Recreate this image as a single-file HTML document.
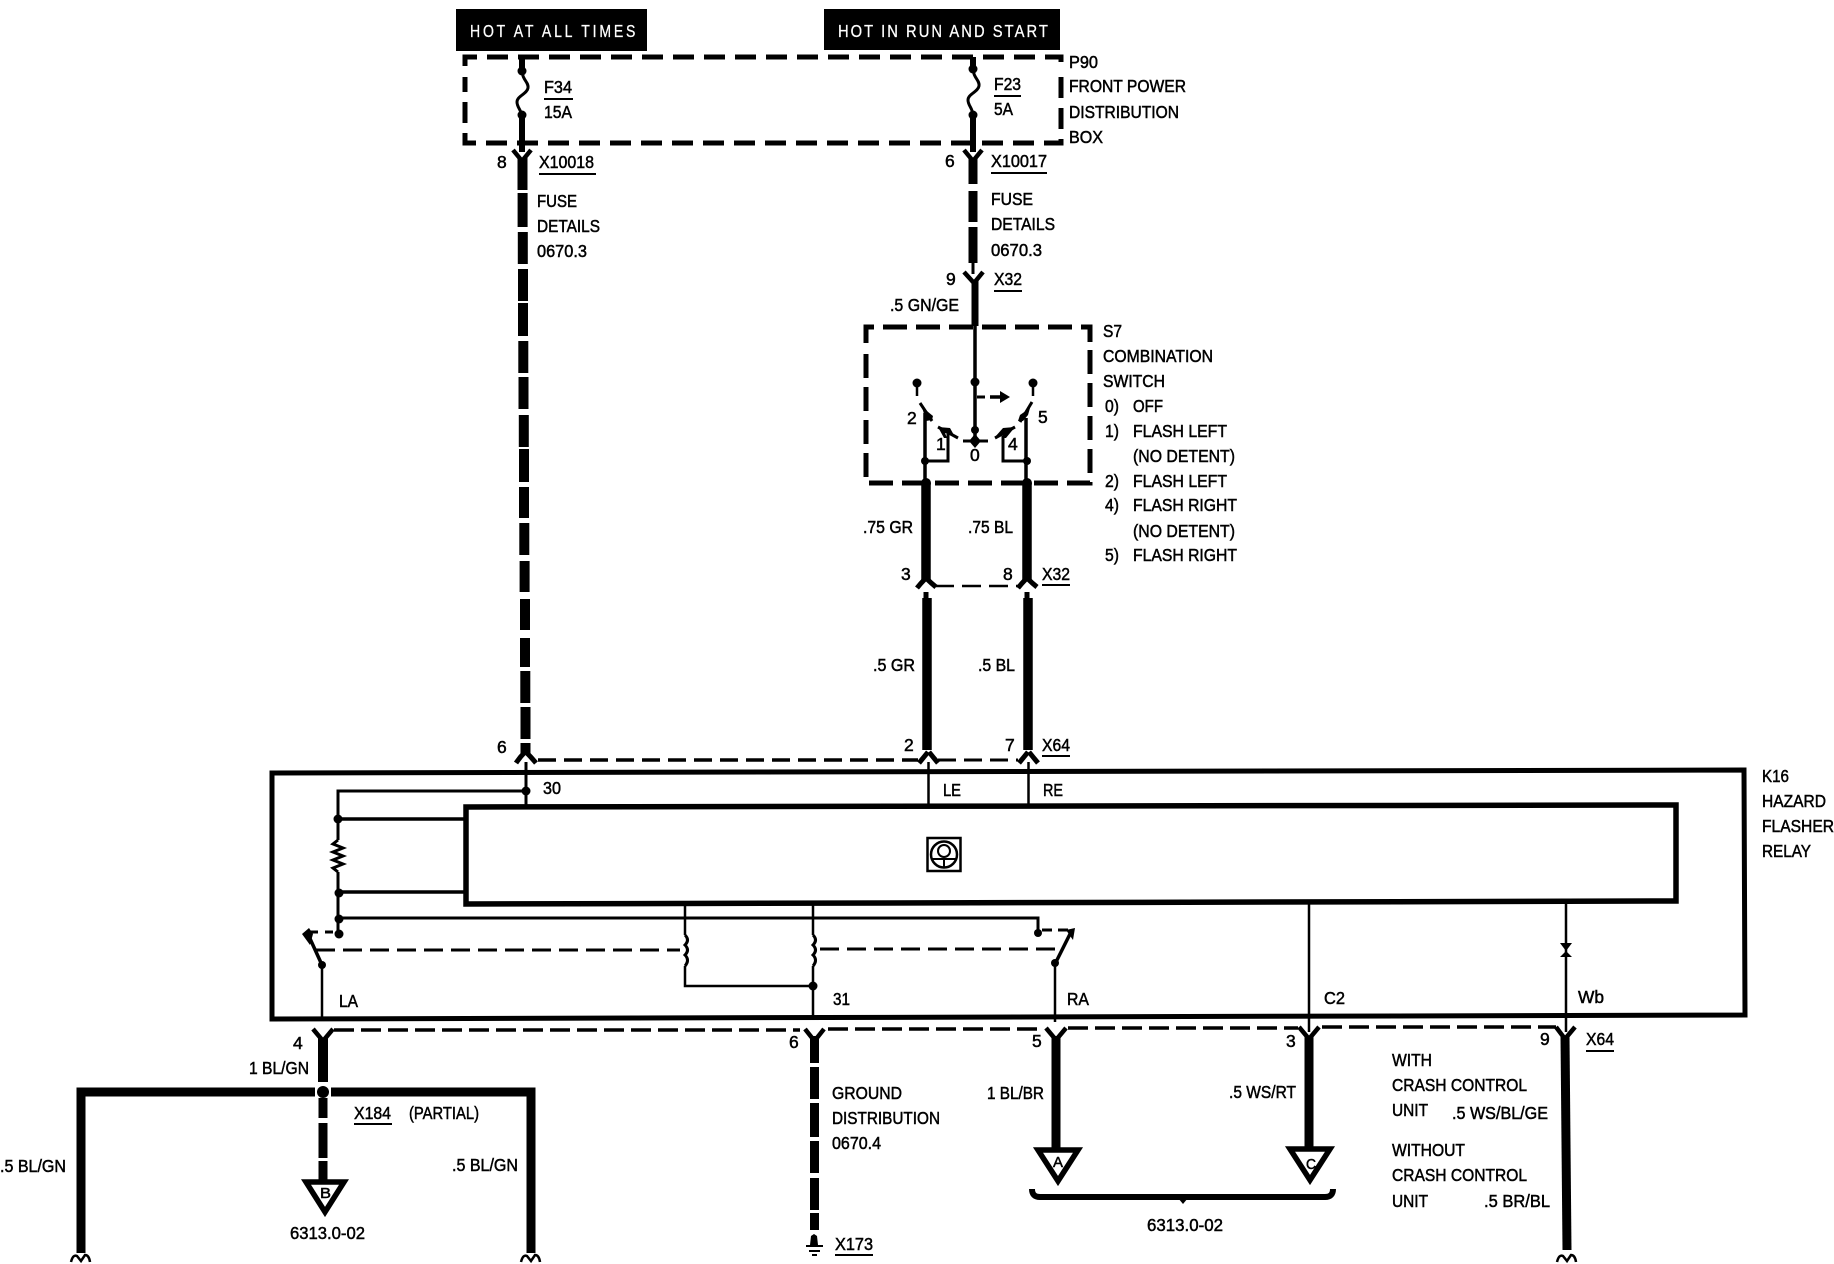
<!DOCTYPE html>
<html><head><meta charset="utf-8"><style>
html,body{margin:0;padding:0;background:#fff}
svg{display:block}
text{font-family:"Liberation Sans",sans-serif;font-size:17.5px;fill:#000;stroke:#000;stroke-width:.5}
.w text{fill:#fff;stroke:#fff;stroke-width:.3;font-size:18px}
.l{font-size:15px}
path,line,rect,polygon,polyline,circle{fill:none;stroke:#000}
.f{fill:#000;stroke:none}
</style></head><body>
<svg width="1834" height="1264" viewBox="0 0 1834 1264" xmlns="http://www.w3.org/2000/svg">
<rect width="1834" height="1264" style="fill:#fff;stroke:none"/>
<!-- labels -->
<rect class="f" x="456" y="9" width="191" height="42"/>
<rect class="f" x="824" y="9" width="236" height="41"/>
<g class="w">
<text transform="translate(470,37) scale(.78,1)" textLength="212" lengthAdjust="spacing">HOT AT ALL TIMES</text>
<text transform="translate(838,37) scale(.82,1)" textLength="256" lengthAdjust="spacing">HOT IN RUN AND START</text>
</g>
<!-- dashed boxes -->
<path d="M465 66V57H1061V68M1061 77V143H465V77" stroke-width="5" stroke-dasharray="21 10" />
<path d="M866 343V327H1090V343M1090 350V483H866V350" stroke-width="5" stroke-dasharray="24 9"/>
<!-- fuses -->
<path d="M522 57V70M522 118V152" stroke-width="6"/>
<path d="M522 70C522 80 529 82 528 88C527 94 517 96 517 102C517 108 522 110 522 118" stroke-width="3"/>
<circle class="f" cx="522" cy="71" r="4.5"/><circle class="f" cx="522" cy="115" r="4.5"/>
<path d="M973 57V68M973 116V152" stroke-width="6"/>
<path d="M973 68C973 78 980 80 979 86C978 92 968 94 968 100C968 106 973 108 973 116" stroke-width="3"/>
<circle class="f" cx="973" cy="69" r="4.5"/><circle class="f" cx="973" cy="115" r="4.5"/>
<!-- left dashed thick wire -->
<g stroke-width="10">
<path d="M522.5 158V190M522.6 193V227M522.8 232V264M523 269V301M523 303V336M523.3 341V373M523.5 377V409M523.8 415V447M524 449V482M524 487V518M524.3 523V555M524.6 561V592M525 599V630M525 638V667M525.3 671V703M525.5 707V739M525.5 743V755"/>
</g>
<!-- forks top -->
<path d="M513 150L522 161L531 150" stroke-width="4.5"/>
<path d="M964 150L973 161L982 150" stroke-width="4.5"/>
<!-- right fuse wire -->
<path d="M973 158V184M973 191V222M973 227V263" stroke-width="9"/>
<path d="M973 263V274" stroke-width="3"/>
<path d="M964 272L974 283L983 272" stroke-width="4.5"/>
<path d="M975 280V326" stroke-width="7"/>
<!-- S7 internals -->
<path d="M975 326V441" stroke-width="3.5"/>
<circle class="f" cx="975" cy="382" r="4.5"/><circle class="f" cx="975" cy="430" r="4"/>
<path d="M977 397H985" stroke-width="3"/>
<path d="M990 397H1002" stroke-width="3.5"/>
<polygon class="f" points="1000,391 1010,397 1000,403"/>
<circle class="f" cx="917" cy="383" r="4.5"/><path d="M917 385V396" stroke-width="2.5"/>
<circle class="f" cx="1033" cy="383" r="4.5"/><path d="M1033 385V396" stroke-width="2.5"/>
<!-- arm 2 -->
<path d="M920 403L932 421" stroke-width="3"/>
<polygon class="f" points="922,407 933,416 932,420 926,421"/>
<!-- arm 5 -->
<path d="M1032 402L1020 422" stroke-width="3"/>
<polygon class="f" points="1030,408 1028,415 1023,421 1018,421 1020,415"/>
<!-- arm 1 -->
<path d="M938 427L958 438" stroke-width="3"/>
<polygon class="f" points="938,427 950,428 955,437 945,433 947,438 944,438"/>
<!-- arm 4 -->
<path d="M1015 427L995 438" stroke-width="3"/>
<polygon class="f" points="1015,427 1003,428 995,437 1003,433 1002,438 1006,438"/>
<!-- node 0 -->
<path d="M963 441H988" stroke-width="3"/><polygon class="f" points="969,441 975,434 981,441 975,448"/>
<path d="M925 413V483" stroke-width="3.5"/>
<path d="M1026 418V483" stroke-width="3.5"/>
<path d="M926 461H948V434" stroke-width="3"/>
<path d="M1027 461H1003V436" stroke-width="3"/>
<circle class="f" cx="925" cy="461" r="4"/><circle class="f" cx="1027" cy="461" r="4"/>
<!-- .75 wires -->
<path d="M926 483V580" stroke-width="9.5"/><path d="M1027 483V580" stroke-width="9.5"/>
<circle class="f" cx="926" cy="483" r="5"/><circle class="f" cx="1027" cy="483" r="5"/>
<path d="M917 588Q921 583 925 579M936 587Q931 583 927 579" stroke-width="5"/>
<path d="M1018 588Q1022 583 1026 579M1037 587Q1032 583 1028 579" stroke-width="5"/>
<path d="M935 586H1018" stroke-width="2.5" stroke-dasharray="19 8"/>
<!-- .5 wires -->
<path d="M926 592V610" stroke-width="5"/><path d="M1027 592V610" stroke-width="5"/>
<path d="M927 598V750" stroke-width="9.5"/><path d="M1028 598V750" stroke-width="9.5"/>
<path d="M919 763Q924 757 928 752M938 763Q933 757 929 752" stroke-width="5"/>
<path d="M1019 763Q1024 757 1028 752M1038 763Q1033 757 1029 752" stroke-width="5"/>
<path d="M516 763Q520 757 525 752M536 763Q531 757 526 752" stroke-width="5"/>
<path d="M538 760H918" stroke-width="3.5" stroke-dasharray="18 8"/>
<path d="M938 760H1018" stroke-width="3" stroke-dasharray="18 8"/>
<!-- K16 boxes -->
<polygon points="272,773 1744,770 1745,1015 272,1019" stroke-width="5"/>
<polygon points="466,807 1676,805 1676,901 466,904" stroke-width="5.5"/>
<!-- pins into box -->
<path d="M526 762V806" stroke-width="3"/>
<path d="M928.5 762V806" stroke-width="2.5"/>
<path d="M1028.5 762V805" stroke-width="2.5"/>
<!-- icon -->
<rect x="927.5" y="838" width="33" height="33" stroke-width="2.5"/>
<circle cx="944" cy="854.5" r="13" stroke-width="2.5"/>
<circle cx="944" cy="851" r="6" stroke-width="2"/>
<path d="M932 859H956M944 859V867" stroke-width="2"/>
<!-- left circuit -->
<path d="M526 791H338V840M338 872V935" stroke-width="3"/>
<path d="M338 840L333 844L343 848L333 852L343 856L333 860L343 864L333 868L338 872" stroke-width="3"/>
<circle class="f" cx="526" cy="791" r="4.5"/>
<path d="M338 819H466M339 892H466" stroke-width="3.5"/>
<circle class="f" cx="338" cy="819" r="4.5"/><circle class="f" cx="339" cy="893" r="4.5"/><circle class="f" cx="339" cy="919" r="4.5"/><circle class="f" cx="339" cy="934" r="4.5"/>
<path d="M339 918H1038V933" stroke-width="3"/>
<circle class="f" cx="1038" cy="933" r="4"/>
<path d="M310 932H335" stroke-width="3" stroke-dasharray="8 7" />
<path d="M307 932L322 965" stroke-width="3.5"/>
<polygon class="f" points="302,934 309,928 313,934 310,945"/>
<circle class="f" cx="322" cy="965" r="4"/>
<path d="M322 965V1020" stroke-width="2.5"/>
<path d="M316 950H680" stroke-width="3" stroke-dasharray="19 8"/>
<path d="M685 904V935M685 966V986H813" stroke-width="2.5"/>
<path d="M685 935Q690 940 685 945Q690 950 685 955Q690 960 685 966" stroke-width="3"/>
<path d="M813 904V935M813 966V1020" stroke-width="2.5"/>
<path d="M813 935Q818 940 813 945Q818 950 813 955Q818 960 813 966" stroke-width="3"/>
<circle class="f" cx="813" cy="986" r="4.5"/>
<path d="M820 949H1061" stroke-width="3" stroke-dasharray="19 8"/>
<path d="M1072 930L1055 964" stroke-width="3.5"/>
<polygon class="f" points="1066,930 1075,928 1073,940"/>
<circle class="f" cx="1055" cy="963" r="4"/>
<path d="M1042 930H1068" stroke-width="3" stroke-dasharray="10 6"/>
<path d="M1055 964V1022" stroke-width="2.5"/>
<path d="M1309 902V1032" stroke-width="2.5"/>
<path d="M1566 901V1032" stroke-width="2.5"/>
<polygon class="f" points="1560,943 1572,943 1566,951 1572,957 1560,957 1566,951"/>
<!-- bottom connector row -->
<path d="M334 1030H800" stroke-width="3.5" stroke-dasharray="20 7"/>
<path d="M828 1029H1044" stroke-width="3.5" stroke-dasharray="20 7"/>
<path d="M1068 1028H1298" stroke-width="3.5" stroke-dasharray="20 7"/>
<path d="M1322 1027H1556" stroke-width="3.5" stroke-dasharray="20 7"/>
<path d="M313 1029L323 1041L333 1029" stroke-width="4.5"/>
<path d="M805 1029L814.5 1041L824 1029" stroke-width="4.5"/>
<path d="M1046 1028L1056 1040L1066 1028" stroke-width="4.5"/>
<path d="M1299 1027L1309 1039L1319 1027" stroke-width="4.5"/>
<path d="M1556 1027L1565 1039L1575 1027" stroke-width="4.5"/>
<!-- wire 4 and bus -->
<path d="M323 1038V1082" stroke-width="10"/>
<circle class="f" cx="323" cy="1092" r="6"/>
<path d="M81 1253V1092H315M331 1092H531V1253" stroke-width="9" />
<path d="M323 1098V1118M323 1123V1158M323 1161V1180" stroke-width="9"/>
<polygon points="306,1182 344,1182 325,1212" stroke-width="5.5"/>
<text class="l" x="320" y="1198" textLength="11" lengthAdjust="spacingAndGlyphs">B</text>
<text x="290" y="1239" textLength="75" lengthAdjust="spacingAndGlyphs">6313.0-02</text>
<path d="M71 1262Q73 1254 77 1256L81 1261L85 1255Q89 1255 90 1262" stroke-width="2.5"/>
<path d="M521 1262Q523 1254 527 1256L531 1261L535 1255Q539 1255 540 1262" stroke-width="2.5"/>
<!-- ground -->
<path d="M814.5 1036V1063M814.5 1067V1099M814.5 1103V1137M814.5 1141V1173M814.5 1178V1210M814.5 1213V1230" stroke-width="9"/>
<polygon class="f" points="810,1245 811,1236 814,1234 817,1236 818,1245"/>
<path d="M806 1246H823M809 1251H820M812 1255H817" stroke-width="2"/>
<!-- wire 5 / 3 / 9 -->
<path d="M1056 1036V1148" stroke-width="9"/>
<path d="M1309 1036V1147" stroke-width="9"/>
<path d="M1565 1036L1567 1250" stroke-width="9"/>
<path d="M1557 1262Q1559 1254 1563 1256L1567 1261L1571 1255Q1575 1255 1576 1262" stroke-width="2.5"/>
<polygon points="1038,1150 1078,1150 1058,1181" stroke-width="5.5"/>
<polygon points="1290,1149 1330,1149 1310,1180" stroke-width="5.5"/>
<text class="l" x="1053" y="1167" textLength="10" lengthAdjust="spacingAndGlyphs">A</text>
<text class="l" x="1306" y="1169" textLength="10" lengthAdjust="spacingAndGlyphs">C</text>
<path d="M1032 1189Q1032 1197 1040 1197H1325Q1333 1197 1333 1189" stroke-width="6"/>
<polygon class="f" points="1178,1198 1188,1198 1183,1204"/>
<text x="1147" y="1231" textLength="76" lengthAdjust="spacingAndGlyphs">6313.0-02</text>
<!-- underlines -->
<g stroke-width="2">
<path d="M544 99H573M994 96H1021M539 174H596M991 173H1047M994 291H1022M1042 585H1070M1042 756H1070M1586 1051H1614M354 1124H392M835 1255H873"/>
</g>
<!-- text -->
<g>
<text x="1069" y="68" textLength="29" lengthAdjust="spacingAndGlyphs">P90</text>
<text x="1069" y="92" textLength="117" lengthAdjust="spacingAndGlyphs">FRONT POWER</text>
<text x="1069" y="118" textLength="110" lengthAdjust="spacingAndGlyphs">DISTRIBUTION</text>
<text x="1069" y="143" textLength="34" lengthAdjust="spacingAndGlyphs">BOX</text>
<text x="544" y="93" textLength="28" lengthAdjust="spacingAndGlyphs">F34</text>
<text x="544" y="118" textLength="28" lengthAdjust="spacingAndGlyphs">15A</text>
<text x="994" y="90" textLength="27" lengthAdjust="spacingAndGlyphs">F23</text>
<text x="994" y="115" textLength="19" lengthAdjust="spacingAndGlyphs">5A</text>
<text x="497" y="168">8</text>
<text x="539" y="168" textLength="55" lengthAdjust="spacingAndGlyphs">X10018</text>
<text x="945" y="167">6</text>
<text x="991" y="167" textLength="56" lengthAdjust="spacingAndGlyphs">X10017</text>
<text x="537" y="207" textLength="40" lengthAdjust="spacingAndGlyphs">FUSE</text>
<text x="537" y="232" textLength="63" lengthAdjust="spacingAndGlyphs">DETAILS</text>
<text x="537" y="257" textLength="50" lengthAdjust="spacingAndGlyphs">0670.3</text>
<text x="991" y="205" textLength="42" lengthAdjust="spacingAndGlyphs">FUSE</text>
<text x="991" y="230" textLength="64" lengthAdjust="spacingAndGlyphs">DETAILS</text>
<text x="991" y="256" textLength="51" lengthAdjust="spacingAndGlyphs">0670.3</text>
<text x="946" y="285">9</text>
<text x="994" y="285" textLength="28" lengthAdjust="spacingAndGlyphs">X32</text>
<text x="890" y="311" textLength="69" lengthAdjust="spacingAndGlyphs">.5 GN/GE</text>
<text x="1103" y="337" textLength="19" lengthAdjust="spacingAndGlyphs">S7</text>
<text x="1103" y="362" textLength="110" lengthAdjust="spacingAndGlyphs">COMBINATION</text>
<text x="1103" y="387" textLength="62" lengthAdjust="spacingAndGlyphs">SWITCH</text>
<text x="1105" y="412" textLength="14" lengthAdjust="spacingAndGlyphs">0)</text><text x="1133" y="412" textLength="30" lengthAdjust="spacingAndGlyphs">OFF</text>
<text x="1105" y="437" textLength="14" lengthAdjust="spacingAndGlyphs">1)</text><text x="1133" y="437" textLength="94" lengthAdjust="spacingAndGlyphs">FLASH LEFT</text>
<text x="1133" y="462" textLength="102" lengthAdjust="spacingAndGlyphs">(NO DETENT)</text>
<text x="1105" y="487" textLength="14" lengthAdjust="spacingAndGlyphs">2)</text><text x="1133" y="487" textLength="94" lengthAdjust="spacingAndGlyphs">FLASH LEFT</text>
<text x="1105" y="511" textLength="14" lengthAdjust="spacingAndGlyphs">4)</text><text x="1133" y="511" textLength="104" lengthAdjust="spacingAndGlyphs">FLASH RIGHT</text>
<text x="1133" y="537" textLength="102" lengthAdjust="spacingAndGlyphs">(NO DETENT)</text>
<text x="1105" y="561" textLength="14" lengthAdjust="spacingAndGlyphs">5)</text><text x="1133" y="561" textLength="104" lengthAdjust="spacingAndGlyphs">FLASH RIGHT</text>
<text x="907" y="424">2</text><text x="936" y="450">1</text><text x="970" y="461">0</text><text x="1008" y="450">4</text><text x="1038" y="423">5</text>
<text x="863" y="533" textLength="50" lengthAdjust="spacingAndGlyphs">.75 GR</text>
<text x="968" y="533" textLength="45" lengthAdjust="spacingAndGlyphs">.75 BL</text>
<text x="901" y="580">3</text><text x="1003" y="580">8</text>
<text x="1042" y="580" textLength="28" lengthAdjust="spacingAndGlyphs">X32</text>
<text x="873" y="671" textLength="42" lengthAdjust="spacingAndGlyphs">.5 GR</text>
<text x="978" y="671" textLength="37" lengthAdjust="spacingAndGlyphs">.5 BL</text>
<text x="497" y="753">6</text>
<text x="904" y="751">2</text><text x="1005" y="751">7</text>
<text x="1042" y="751" textLength="28" lengthAdjust="spacingAndGlyphs">X64</text>
<text x="543" y="794" textLength="18" lengthAdjust="spacingAndGlyphs">30</text>
<text x="943" y="796" textLength="18" lengthAdjust="spacingAndGlyphs">LE</text>
<text x="1043" y="796" textLength="20" lengthAdjust="spacingAndGlyphs">RE</text>
<text x="1762" y="782" textLength="27" lengthAdjust="spacingAndGlyphs">K16</text>
<text x="1762" y="807" textLength="64" lengthAdjust="spacingAndGlyphs">HAZARD</text>
<text x="1762" y="832" textLength="72" lengthAdjust="spacingAndGlyphs">FLASHER</text>
<text x="1762" y="857" textLength="49" lengthAdjust="spacingAndGlyphs">RELAY</text>
<text x="339" y="1007" textLength="19" lengthAdjust="spacingAndGlyphs">LA</text>
<text x="833" y="1005" textLength="17" lengthAdjust="spacingAndGlyphs">31</text>
<text x="1067" y="1005" textLength="22" lengthAdjust="spacingAndGlyphs">RA</text>
<text x="1324" y="1004" textLength="21" lengthAdjust="spacingAndGlyphs">C2</text>
<text x="1578" y="1003" textLength="26" lengthAdjust="spacingAndGlyphs">Wb</text>
<text x="293" y="1049">4</text>
<text x="789" y="1048">6</text>
<text x="1032" y="1047">5</text>
<text x="1286" y="1047">3</text>
<text x="1540" y="1045">9</text>
<text x="1586" y="1045" textLength="28" lengthAdjust="spacingAndGlyphs">X64</text>
<text x="249" y="1074" textLength="60" lengthAdjust="spacingAndGlyphs">1 BL/GN</text>
<text x="354" y="1119" textLength="37" lengthAdjust="spacingAndGlyphs">X184</text>
<text x="409" y="1119" textLength="70" lengthAdjust="spacingAndGlyphs">(PARTIAL)</text>
<text x="0" y="1172" textLength="66" lengthAdjust="spacingAndGlyphs">.5 BL/GN</text>
<text x="452" y="1171" textLength="66" lengthAdjust="spacingAndGlyphs">.5 BL/GN</text>
<text x="832" y="1099" textLength="70" lengthAdjust="spacingAndGlyphs">GROUND</text>
<text x="832" y="1124" textLength="108" lengthAdjust="spacingAndGlyphs">DISTRIBUTION</text>
<text x="832" y="1149" textLength="49" lengthAdjust="spacingAndGlyphs">0670.4</text>
<text x="835" y="1250" textLength="38" lengthAdjust="spacingAndGlyphs">X173</text>
<text x="987" y="1099" textLength="57" lengthAdjust="spacingAndGlyphs">1 BL/BR</text>
<text x="1229" y="1098" textLength="67" lengthAdjust="spacingAndGlyphs">.5 WS/RT</text>
<text x="1392" y="1066" textLength="40" lengthAdjust="spacingAndGlyphs">WITH</text>
<text x="1392" y="1091" textLength="135" lengthAdjust="spacingAndGlyphs">CRASH CONTROL</text>
<text x="1392" y="1116" textLength="36" lengthAdjust="spacingAndGlyphs">UNIT</text>
<text x="1452" y="1119" textLength="96" lengthAdjust="spacingAndGlyphs">.5 WS/BL/GE</text>
<text x="1392" y="1156" textLength="73" lengthAdjust="spacingAndGlyphs">WITHOUT</text>
<text x="1392" y="1181" textLength="135" lengthAdjust="spacingAndGlyphs">CRASH CONTROL</text>
<text x="1392" y="1207" textLength="36" lengthAdjust="spacingAndGlyphs">UNIT</text>
<text x="1484" y="1207" textLength="66" lengthAdjust="spacingAndGlyphs">.5 BR/BL</text>
</g>
</svg>
</body></html>
